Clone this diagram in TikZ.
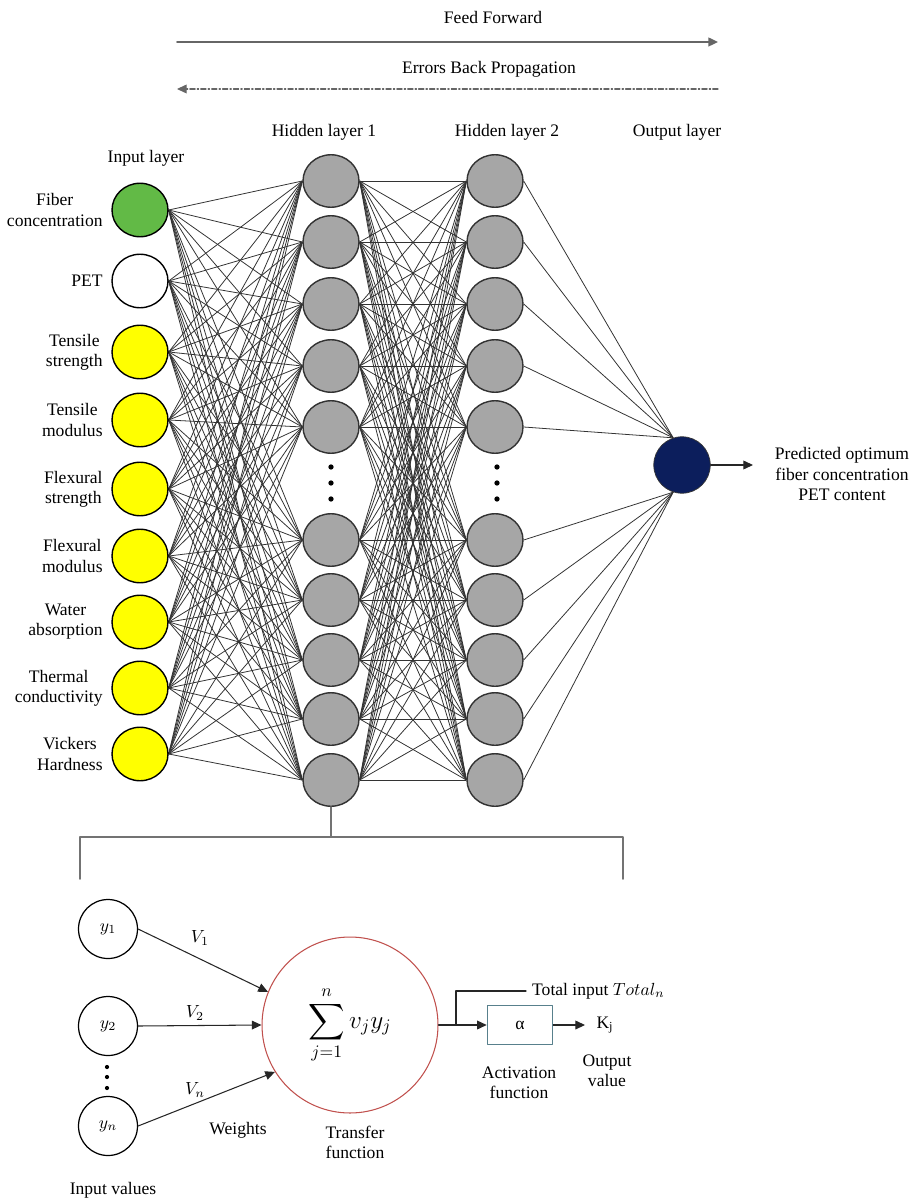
\documentclass[tikz,border=0pt]{standalone}
\usepackage{fontspec}
\setmainfont{Liberation Serif}
\usepackage{amsmath}
\usepackage{xcolor}
\usetikzlibrary{arrows.meta,positioning,shapes.geometric,backgrounds}

\definecolor{fibgreen}{RGB}{98,186,70}
\definecolor{propyellow}{RGB}{255,255,0}
\definecolor{hidgray}{RGB}{166,166,166}
\definecolor{outnavy}{RGB}{12,30,92}
\definecolor{sumred}{RGB}{192,80,77}
\definecolor{boxteal}{RGB}{88,128,140}

\begin{document}
\begin{tikzpicture}[
  x=0.02cm, y=-0.02cm,
  line cap=round,
  line join=round,
  >={Triangle[length=5.5pt,width=5pt]},
  every node/.style={font=\rmfamily\fontsize{10}{11.5}\selectfont},
  innode/.style={ellipse,draw=black,line width=0.8pt,minimum width=1.12cm,
    minimum height=1.07cm,inner sep=0pt},
  hidnode/.style={ellipse,draw=black!80,fill=hidgray,line width=0.8pt,
    minimum width=1.12cm,minimum height=1.05cm,inner sep=0pt},
  outnode/.style={circle,draw=black!80,fill=outnavy,minimum size=1.13cm,inner sep=0pt},
  link/.style={black!80,line width=0.45pt},
  flowline/.style={black!60,line width=1.1pt},
  backline/.style={black!60,line width=0.6pt,
    dash pattern=on 3pt off 1.2pt on 0.8pt off 1.2pt},
  bracketline/.style={black!55,line width=0.9pt},
  ynode/.style={circle,draw=black,line width=0.7pt,minimum size=1.18cm,inner sep=0pt},
  sumcircle/.style={circle,draw=sumred,line width=0.6pt,minimum size=3.52cm,
    inner sep=0pt,font=\Large},
  actbox/.style={draw=boxteal,line width=0.9pt,minimum width=1.3cm,minimum height=0.78cm},
  wire/.style={black!85,line width=0.6pt},
  wirearrow/.style={wire,->}
]
\useasboundingbox (0,0) rectangle (923,1199);

% direction arrows
\coordinate (ffstart) at (177,42);
\coordinate (ffend) at (718,42);
\draw[flowline,->] (ffstart) -- (ffend);
\node (fflab) at (493,17) {Feed Forward};
\coordinate (bpstart) at (718,89);
\coordinate (bpend) at (177,89);
\draw[backline,->] (bpstart) -- (bpend);
\node (bplab) at (489,69) {Errors Back Propagation};

% layer titles
\node (inhead) at (146,158) {Input layer};
\node (hAhead) at (324,132) {Hidden layer 1};
\node (hBhead) at (507,132) {Hidden layer 2};
\node (outhead) at (677,132) {Output layer};

% input layer
\foreach \txt/\col/\yy [count=\i] in {
  {Fiber\\concentration}/fibgreen/210,
  PET/white/281,
  {Tensile\\strength}/propyellow/352,
  {Tensile\\modulus}/propyellow/420,
  {Flexural\\strength}/propyellow/489,
  {Flexural\\modulus}/propyellow/556,
  {Water\\absorption}/propyellow/622,
  {Thermal\\conductivity}/propyellow/688,
  {Vickers\\Hardness}/propyellow/754}
{
  \node[innode,fill=\col] (in\i) at (140,\yy) {};
  \node[align=center,left=0.05cm of in\i] (inlab\i) {\txt};
}

% hidden layers
\foreach \yy [count=\j] in {181,242,304,366,427,540,600,660,719,780} {
  \node[hidnode] (hA\j) at (331,\yy) {};
  \node[hidnode] (hB\j) at (495,\yy) {};
}
\foreach \yy in {467,483,499} {
  \fill (331,\yy) circle (1.5pt);
  \fill (497,\yy) circle (1.5pt);
}

% output layer
\node[outnode] (out) at (682,465) {};
\coordinate (outtip) at (753,465);
\draw[wirearrow] (out.east) -- (outtip);
\node[align=center] (predlab) at (842,474)
  {Predicted optimum\\fiber concentration\\PET content};

% connections
\begin{scope}[on background layer]
  \foreach \i in {1,...,9}
    \foreach \j in {1,...,10}
      \draw[link] (in\i.east) -- (hA\j.west);
  \foreach \i in {1,...,10}
    \foreach \j in {1,...,10}
      \draw[link] (hA\i.east) -- (hB\j.west);
  \foreach \j in {1,...,5}
    \draw[link] (hB\j.east) -- (out.108);
  \foreach \j in {6,...,10}
    \draw[link] (hB\j.east) -- (out.252);
\end{scope}

% bracket to the single neuron
\coordinate (brtop) at (331,837);
\coordinate (brL) at (80,879);
\coordinate (brR) at (623,879);
\draw[bracketline] (hA10.south) -- (brtop);
\draw[bracketline] (brL) -- (brL |- brtop) -- (brR |- brtop) -- (brR);

% single neuron
\node[ynode] (yin1) at (108,929) {$y_1$};
\node[ynode] (yin2) at (108,1026) {$y_2$};
\node[ynode] (yinn) at (108,1126) {$y_n$};
\foreach \yy in {1067,1077,1088}
  \fill (107,\yy) circle (1.2pt);
\node[sumcircle] (sumnode) at (350,1025) {$\displaystyle\sum_{j=1}^{n} v_j y_j$};

\draw[wirearrow] (yin1.east) -- (sumnode.158);
\draw[wirearrow] (yin2.east) -- (sumnode.west);
\draw[wirearrow] (yinn.east) -- (sumnode.212);
\node (w1) at (200,938) {$V_1$};
\node (w2) at (195,1013) {$V_2$};
\node (wn) at (195,1090) {$V_n$};

\node (wlab) at (238,1130) {Weights};
\node[align=center] (tflab) at (355,1142) {Transfer\\function};
\node (invlab) at (113,1190) {Input values};

\node[actbox] (act) at (520,1025) {α};
\coordinate (tap) at (456,1025);
\node[anchor=west] (totlab) at (526,991) {Total input $Total_n$};
\draw[wire] (tap) |- (totlab.west);
\draw[wirearrow] (sumnode.east) -- (act.west);
\node (kout) at (605,1025) {K\textsubscript{j}};
\draw[wirearrow,shorten >=3pt] (act.east) -- (kout.west);
\node[align=center] (actlab) at (519,1083) {Activation\\function};
\node[align=center] (outvlab) at (607,1071) {Output\\value};
\end{tikzpicture}
\end{document}
